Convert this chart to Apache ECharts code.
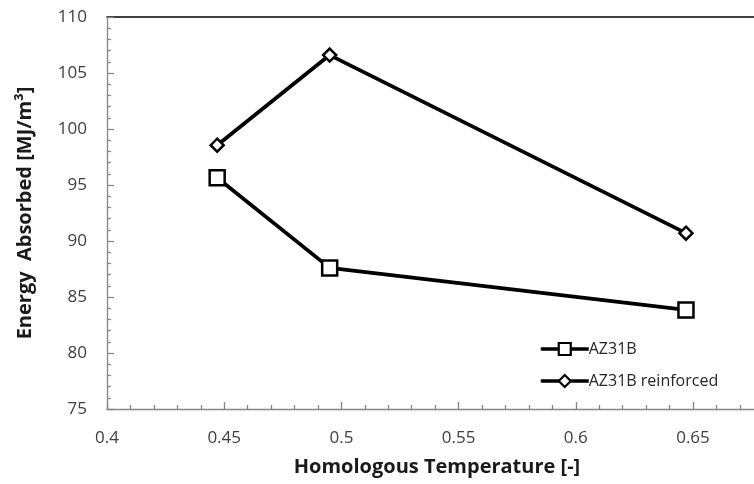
<!DOCTYPE html>
<html>
<head>
<meta charset="utf-8">
<script src="https://cdn.jsdelivr.net/npm/echarts@6/dist/echarts.min.js"></script>
<style>html,body{margin:0;padding:0;background:#fff;overflow:hidden}#c{width:754px;height:484px}</style>
</head>
<body>
<div id="c"></div>
<script>
var temperatureAZ31B = [0.447, 0.495, 0.647];
var energyAZ31B = [95.65, 87.6, 83.85];
var temperatureReinforced = [0.447, 0.495, 0.647];
var energyReinforced = [98.55, 106.6, 90.7];
var seriesNames = ['AZ31B', 'AZ31B reinforced'];
var xTitle = 'Homologous Temperature [-]';
var yTitle = 'Energy  Absorbed [MJ/m\u00B3]';

function pairs(xs, ys) { return xs.map(function (x, i) { return [x, ys[i]]; }); }

var font = '"Open Sans", "Noto Sans", sans-serif';
var titleFont = '"Open Sans", "Noto Sans", sans-serif';
var chart = echarts.init(document.getElementById('c'), null, { renderer: 'canvas' });
chart.setOption({
  animation: false,
  backgroundColor: '#ffffff',
  grid: { left: 107, top: 17, right: -56.2, bottom: 75, containLabel: false, outerBoundsMode: 'none' },
  graphic: [{
    type: 'text',
    x: 437,
    y: 467,
    style: {
      text: xTitle,
      textAlign: 'center',
      textVerticalAlign: 'middle',
      fontFamily: titleFont,
      fontWeight: 'bold',
      fontSize: 20,
      fill: '#1a1a1a'
    }
  }],
  legend: {
    orient: 'vertical',
    left: 534,
    top: 336,
    itemWidth: 48,
    itemHeight: 15,
    itemGap: 16,
    lineStyle: { width: 3.5, color: '#000' },
    itemStyle: { color: '#fff', borderColor: '#000', borderWidth: 2.2 },
    textStyle: { fontFamily: font, fontSize: 16, color: '#262626', padding: [0, 0, 0, -5] },
    data: seriesNames
  },
  xAxis: [{
    type: 'value',
    min: 0.4,
    max: 0.7,
    interval: 0.05,
    axisLine: { lineStyle: { color: '#868686', width: 1.3 } },
    axisTick: { inside: true, length: 7, lineStyle: { color: '#868686', width: 1.3 } },
    minorTick: { show: true, splitNumber: 5, length: 4, lineStyle: { color: '#868686', width: 1.3 } },
    axisLabel: {
      margin: 21, fontFamily: font, fontSize: 17, color: '#404040',
      formatter: function (v) { return String(+v.toFixed(3)); }
    },
    splitLine: { show: false }
  }, {
    type: 'value',
    position: 'top',
    min: 0.4,
    max: 0.7,
    axisLine: { show: true, lineStyle: { color: '#000', width: 1.6 } },
    axisTick: { show: false },
    axisLabel: { show: false },
    splitLine: { show: false }
  }],
  yAxis: {
    type: 'value',
    min: 75,
    max: 110,
    interval: 5,
    name: yTitle,
    nameLocation: 'middle',
    nameGap: 72,
    nameTextStyle: { fontFamily: titleFont, fontWeight: 'bold', fontSize: 20, color: '#1a1a1a' },
    axisLine: { show: true, lineStyle: { color: '#868686', width: 1.3 } },
    axisTick: { show: true, inside: true, length: 7, lineStyle: { color: '#868686', width: 1.3 } },
    minorTick: { show: true, splitNumber: 5, length: 4, lineStyle: { color: '#868686', width: 1.3 } },
    axisLabel: { margin: 20, fontFamily: font, fontSize: 17, color: '#404040' },
    splitLine: { show: false }
  },
  series: [{
    name: seriesNames[0],
    type: 'line',
    data: pairs(temperatureAZ31B, energyAZ31B),
    symbol: 'rect',
    symbolSize: 15,
    showAllSymbol: true,
    lineStyle: { color: '#000', width: 3.8 },
    itemStyle: { color: '#fff', borderColor: '#000', borderWidth: 2.5 },
    z: 3
  }, {
    name: seriesNames[1],
    type: 'line',
    data: pairs(temperatureReinforced, energyReinforced),
    symbol: 'diamond',
    symbolSize: 13,
    showAllSymbol: true,
    lineStyle: { color: '#000', width: 3.8 },
    itemStyle: { color: '#fff', borderColor: '#000', borderWidth: 2.5 },
    z: 3
  }]
});
</script>
</body>
</html>
